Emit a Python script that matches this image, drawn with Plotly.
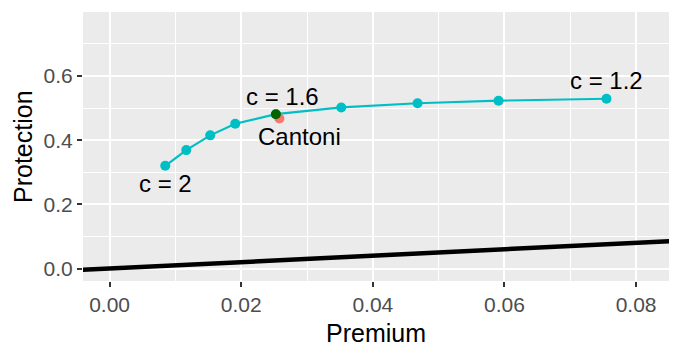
import plotly.graph_objects as go

# Values
premium = [0.00846, 0.01165, 0.01529, 0.01909, 0.02527, 0.0352, 0.0468, 0.0591, 0.0755]
protection = [0.320, 0.369, 0.415, 0.451, 0.481, 0.502, 0.515, 0.523, 0.529]
c_values = [2.0, 1.9, 1.8, 1.7, 1.6, 1.5, 1.4, 1.3, 1.2]

cantoni_premium = [0.0258]
cantoni_protection = [0.4675]

# reference line protection = premium (clipped by the axes)
ref_line = [-0.01, 0.1]

x_ticks = [0.00, 0.02, 0.04, 0.06, 0.08]
y_ticks = [0.0, 0.2, 0.4, 0.6]

FONT = "Liberation Sans, Arial, sans-serif"
CYAN = "#00BFC4"
# page body has an 8px default margin, so shrink the figure to compensate
OFF = 8
W, H = 681 - OFF, 355 - OFF
M = dict(l=83 - OFF, r=12, t=12 - OFF, b=74)

fig = go.Figure()

fig.add_trace(go.Scatter(
    x=ref_line, y=ref_line, mode="lines",
    line=dict(color="black", width=4.5), hoverinfo="skip",
))

fig.add_trace(go.Scatter(
    x=premium, y=protection, mode="lines+markers",
    line=dict(color=CYAN, width=2.2),
    marker=dict(color=CYAN, size=10),
))

fig.add_trace(go.Scatter(
    x=cantoni_premium, y=cantoni_protection, mode="markers",
    marker=dict(color="#F8766D", size=10),
))

# highlight c = 1.6
hi = c_values.index(1.6)
fig.add_trace(go.Scatter(
    x=[premium[hi]], y=[protection[hi]], mode="markers",
    marker=dict(color="#006400", size=10),
))

lab_font = dict(family=FONT, size=24, color="black")
first, last = 0, len(c_values) - 1
fig.add_annotation(x=premium[first], y=protection[first], text="c = 2",
                   showarrow=False, yshift=-18, font=lab_font)
fig.add_annotation(x=premium[hi], y=protection[hi], text="c = 1.6",
                   showarrow=False, yshift=18, xshift=7, font=lab_font)
fig.add_annotation(x=cantoni_premium[0], y=cantoni_protection[0], text="Cantoni",
                   showarrow=False, yshift=-18, xshift=20, font=lab_font)
fig.add_annotation(x=premium[last], y=protection[last], text="c = 1.2",
                   showarrow=False, yshift=18, font=lab_font)

# axis titles placed in paper coordinates (target pixel centres from the reference)
pw = W - M["l"] - M["r"]
ph = H - M["t"] - M["b"]
title_font = dict(family=FONT, size=25, color="black")
fig.add_annotation(xref="paper", yref="paper", x=0.5,
                   y=(H - M["b"] - (333 - OFF)) / ph,
                   text="Premium", showarrow=False, font=title_font,
                   xanchor="center", yanchor="middle")
fig.add_annotation(xref="paper", yref="paper", x=((22.5 - OFF) - M["l"]) / pw, y=0.5,
                   text="Protection", showarrow=False, font=title_font, textangle=-90,
                   xanchor="center", yanchor="middle")

fig.update_layout(
    width=W, height=H,
    margin=M,
    paper_bgcolor="white",
    plot_bgcolor="#EBEBEB",
    showlegend=False,
    font=dict(family=FONT),
)

axis_common = dict(
    automargin=False,
    showgrid=True, gridcolor="white", gridwidth=1.6,
    zeroline=False, showline=False,
    ticks="outside", ticklen=5, tickwidth=1.5, tickcolor="#333333",
    tickfont=dict(family=FONT, size=21, color="#4D4D4D"),
)

fig.update_xaxes(
    **axis_common,
    range=[-0.00404, 0.0850],
    tickvals=x_ticks, ticktext=[f"{v:.2f}" for v in x_ticks],
    minor=dict(dtick=0.01, tick0=0.01, showgrid=True, gridcolor="white", gridwidth=0.7),
)
fig.update_yaxes(
    **axis_common,
    range=[-0.0389, 0.7994],
    tickvals=y_ticks, ticktext=[f"{v:.1f}" for v in y_ticks],
    minor=dict(dtick=0.1, tick0=0.1, showgrid=True, gridcolor="white", gridwidth=0.7),
)

fig.write_html("out.html")
